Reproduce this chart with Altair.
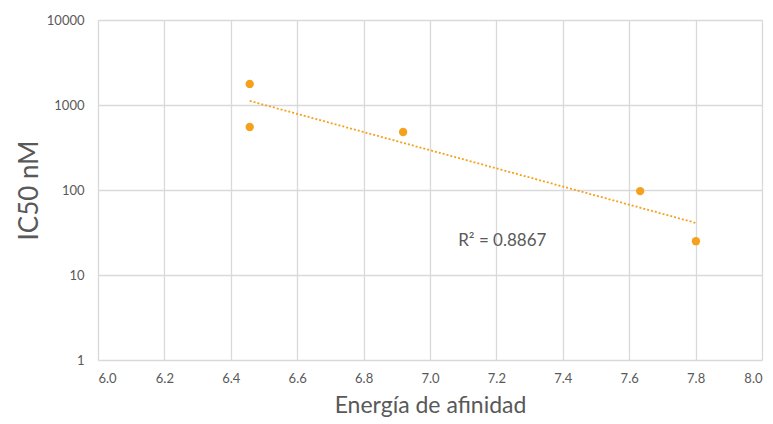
import altair as alt
import pandas as pd

energia = [6.457, 6.457, 6.919, 7.633, 7.801]
ic50 = [1770, 551, 481, 97, 25]
x_ticks = [6.0, 6.2, 6.4, 6.6, 6.8, 7.0, 7.2, 7.4, 7.6, 7.8, 8.0]
y_ticks = [1, 10, 100, 1000, 10000]
r2_label = ["R² = 0.8867"]
r2_pos_x = [7.085]
r2_pos_y = [25]

df = pd.DataFrame({"x": energia, "y": ic50})
lab = pd.DataFrame({"x": r2_pos_x, "y": r2_pos_y, "t": r2_label})

FONT = "Lato"
ORANGE = "#F4A21E"
GREY = "#595959"
GRID = "#D9D9D9"

xs = alt.Scale(domain=[6.0, 8.0], nice=False, zero=False)
ys = alt.Scale(type="log", domain=[1, 10000], nice=False)

xaxis = alt.Axis(values=x_ticks, format=".1f", title="Energía de afinidad",
                 grid=True, gridColor=GRID, gridWidth=1.3, domain=False, ticks=False,
                 labelFont=FONT, labelFontSize=13, labelColor=GREY, labelPadding=12,
                 titleFont=FONT, titleFontSize=23, titleColor=GREY, titleFontWeight="normal",
                 titlePadding=9)
yaxis = alt.Axis(values=y_ticks, format="d", title="IC50 nM",
                 grid=True, gridColor=GRID, gridWidth=1.3, domain=False, ticks=False,
                 labelFont=FONT, labelFontSize=13, labelColor=GREY, labelPadding=14,
                 titleFont=FONT, titleFontSize=26, titleColor=GREY, titleFontWeight="normal",
                 titlePadding=4)

points = alt.Chart(df).mark_circle(size=70, color=ORANGE, opacity=1).encode(
    x=alt.X("x:Q", scale=xs, axis=xaxis),
    y=alt.Y("y:Q", scale=ys, axis=yaxis),
)

trend = alt.Chart(df).transform_calculate(
    ly="log(datum.y)"
).transform_regression("x", "ly", method="linear").transform_calculate(
    yy="exp(datum.ly)"
).mark_line(color=ORANGE, strokeDash=[2, 2], strokeWidth=1.8).encode(
    x=alt.X("x:Q", scale=xs),
    y=alt.Y("yy:Q", scale=ys),
)

text = alt.Chart(lab).mark_text(align="left", baseline="middle", font=FONT,
                                fontSize=17, color=GREY).encode(
    x=alt.X("x:Q", scale=xs),
    y=alt.Y("y:Q", scale=ys),
    text="t:N",
)

chart = alt.layer(points, trend, text).properties(
    width=664, height=340,
    padding={"left": 90, "top": 12, "right": 3, "bottom": 62},
    autosize=alt.AutoSizeParams(type="none"),
).configure_view(stroke=None)

chart.save("out.html", embed_options={"renderer": "svg", "actions": False})
